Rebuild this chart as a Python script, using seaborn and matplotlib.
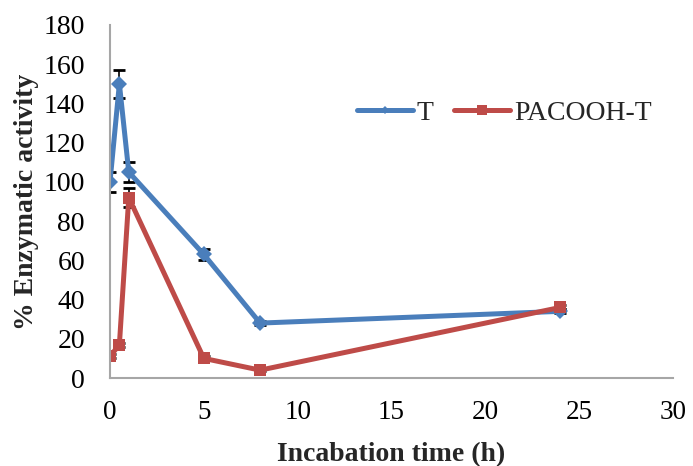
import matplotlib
matplotlib.use("Agg")
import matplotlib.pyplot as plt
import seaborn as sns
import pandas as pd

time_h = [0, 0.5, 1, 5, 8, 24]
t_values = [100, 150, 105, 63, 28, 34]
t_err = [5, 7, 5, 3, 1, 1]
pacooh_values = [11, 17, 92, 10, 4, 36]
pacooh_err = [1, 1, 5, 1, 0.5, 1]
series_names = ["T", "PACOOH-T"]

sns.set_theme(style="white")
plt.rcParams['font.family'] = ['Liberation Serif', 'DejaVu Serif']

df = pd.DataFrame({
    "time": time_h * 2,
    "value": t_values + pacooh_values,
    "series": [series_names[0]] * len(time_h) + [series_names[1]] * len(time_h),
})

W, H = 693, 466
fig = plt.figure(figsize=(W / 100, H / 100), dpi=100)
x0, x1, y0, y1 = 110, 673, 378, 25
ax = fig.add_axes([x0 / W, 1 - y0 / H, (x1 - x0) / W, (y0 - y1) / H])

palette = {"T": "#4A7EBB", "PACOOH-T": "#BE4B48"}
sns.lineplot(data=df, x="time", y="value", hue="series", style="series",
             markers={"T": "D", "PACOOH-T": "s"}, dashes=False,
             palette=palette, linewidth=3.6, markersize=8,
             markeredgewidth=0, ax=ax, legend=True)

ax.errorbar(time_h, t_values, yerr=t_err, fmt="none", ecolor="black",
            elinewidth=1.2, capsize=4.5, capthick=2, zorder=1)
ax.errorbar(time_h, pacooh_values, yerr=pacooh_err, fmt="none", ecolor="black",
            elinewidth=1.2, capsize=4.5, capthick=2, zorder=1)

ax.set_xlim(0, 30)
ax.set_ylim(0, 180)
ax.set_xticks(range(0, 31, 5))
ax.set_yticks(range(0, 181, 20))
ax.tick_params(axis="y", labelsize=20, colors="black", length=0, pad=18)
ax.tick_params(axis="x", labelsize=19.5, colors="black", length=0, pad=16)
for s in ["top", "right"]:
    ax.spines[s].set_visible(False)
for s in ["left", "bottom"]:
    ax.spines[s].set_color("#A6A6A6")
    ax.spines[s].set_linewidth(1.5)

ax.set_xlabel("Incabation time (h)", fontsize=20, fontweight="bold")
ax.set_ylabel("% Enzymatic activity", fontsize=20, fontweight="bold")
ax.xaxis.set_label_coords(0.5, (y0 - 442) / (y0 - y1))
ax.yaxis.set_label_coords((39 - x0) / (x1 - x0), 0.5)

leg = ax.legend(loc="center left", bbox_to_anchor=(357 / W, 1 - 113 / H),
                bbox_transform=fig.transFigure, ncol=2, frameon=False,
                fontsize=20, handlelength=2.0, columnspacing=0.75,
                handletextpad=0.15, borderpad=0, borderaxespad=0)
leg.set_title(None)
for h, ms in zip(leg.legend_handles, [4, 7]):
    h.set_markersize(ms)
    h.set_linewidth(3.6)

fig.savefig("out.png", dpi=100)
